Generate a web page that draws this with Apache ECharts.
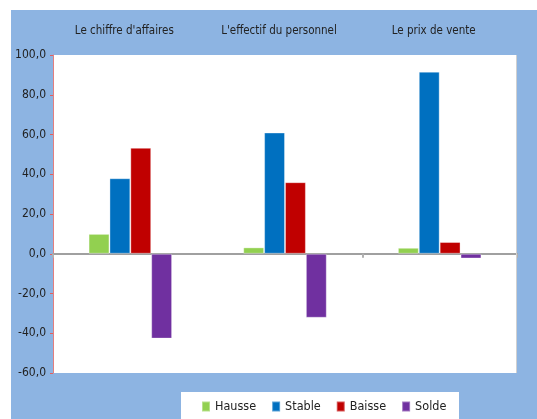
<!DOCTYPE html>
<html>
<head>
<meta charset="utf-8">
<script src="https://cdn.jsdelivr.net/npm/echarts@6/dist/echarts.min.js"></script>
<style>
html,body{margin:0;padding:0;background:#fff;}
#c{width:537px;height:419px;}
</style>
</head>
<body>
<div id="c"></div>
<script>
const categories = ["Le chiffre d'affaires", "L'effectif du personnel", "Le prix de vente"];
const hausse = [10.0, 3.2, 3.0];
const stable = [38.0, 61.0, 91.6];
const baisse = [53.3, 36.0, 5.9];
const solde = [-42.7, -32.2, -2.4];
const seriesNames = ['Hausse', 'Stable', 'Baisse', 'Solde'];
const yTicks = { min: -60, max: 100, interval: 20 };

const FONT = '"DejaVu Sans Condensed", Roboto, sans-serif';
const colors = ['#92D050', '#0070C0', '#C00000', '#7030A0'];
const chart = echarts.init(document.getElementById('c'), null, { renderer: 'canvas' });
const values = [hausse, stable, baisse, solde];

chart.setOption({
  animation: false,
  textStyle: { fontFamily: FONT },
  graphic: [
    { type: 'rect', z: -10, shape: { x: 11, y: 10, width: 526, height: 409 }, style: { fill: '#8DB4E2' } },
    { type: 'rect', z: -5, shape: { x: 181, y: 392, width: 278, height: 27 }, style: { fill: '#ffffff' } },
    { type: 'rect', z: 5, shape: { x: 516, y: 55, width: 1, height: 318 }, style: { fill: '#D0D0D0' } }
  ],
  grid: { left: 53, right: 20, top: 55, bottom: 46, show: true, backgroundColor: '#ffffff', borderWidth: 0, z: 0 },
  legend: {
    data: seriesNames,
    bottom: 1,
    left: 196,
    itemWidth: 8,
    itemHeight: 10,
    itemGap: 15,
    icon: 'rect',
    textStyle: { fontFamily: FONT, fontSize: 12.5, color: '#222' }
  },
  xAxis: [
    {
      type: 'category',
      data: categories,
      axisLine: { onZero: true, lineStyle: { color: '#A0A0A0', width: 2 } },
      axisTick: { show: true, length: 4, lineStyle: { color: '#B0B0B0', width: 2 } },
      axisLabel: { show: false }
    },
    {
      type: 'category',
      data: categories,
      position: 'top',
      axisLine: { show: false },
      axisTick: { show: false },
      axisLabel: { interval: 0, margin: 18, fontSize: 11.5, color: '#222', fontFamily: FONT, padding: [0, 12, 0, 0] }
    }
  ],
  yAxis: {
    type: 'value',
    min: yTicks.min,
    max: yTicks.max,
    interval: yTicks.interval,
    splitLine: { show: false },
    axisLine: { show: true, lineStyle: { color: '#E37F7F', width: 1 } },
    axisTick: { show: true, length: 3, lineStyle: { color: '#E06060' } },
    axisLabel: {
      margin: 7, fontSize: 12, color: '#222', fontFamily: FONT,
      formatter: v => v.toFixed(1).replace('.', ',')
    }
  },
  series: seriesNames.map((n, i) => ({
    name: n,
    type: 'bar',
    data: values[i],
    barGap: '0%',
    barCategoryGap: '46%',
    itemStyle: { color: colors[i], borderColor: 'rgba(255,255,255,0.35)', borderWidth: 1 },
    z: 3
  }))
});
</script>
</body>
</html>
